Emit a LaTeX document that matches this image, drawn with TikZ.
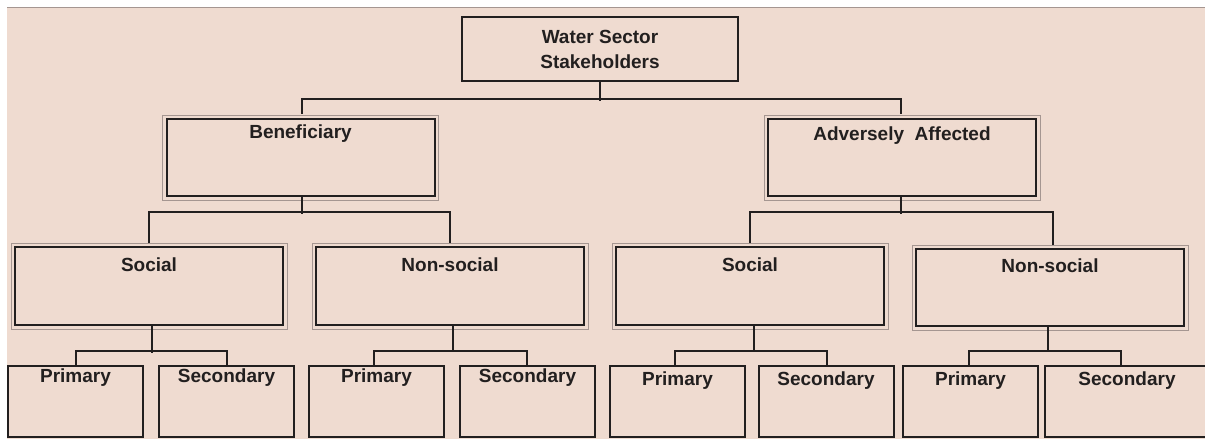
\documentclass[tikz,border=0pt]{standalone}
\usepackage{fontspec}
\setmainfont{Liberation Sans}
\definecolor{paper}{RGB}{239,219,208}
\definecolor{ink}{RGB}{34,31,31}
\definecolor{rim}{RGB}{165,150,145}
\begin{document}
\begin{tikzpicture}[x=1pt,y=-1pt,
  box/.style={draw=ink, line width=2pt, rectangle, inner sep=0pt},
  topbox/.style={box, minimum width=276pt, minimum height=64pt},
  bigbox/.style={box, minimum width=268pt, minimum height=77pt},
  leafbox/.style={box, minimum width=135pt, minimum height=71pt},
  lbl/.style={text=ink, font=\fontsize{19}{25}\selectfont\bfseries, inner sep=0pt, align=center},
  link/.style={draw=ink, line width=2pt},
  rimline/.style={draw=rim, line width=1pt}]
% page and background
\useasboundingbox (0,0) rectangle (1205,439);
\fill[white] (0,0) rectangle (1205,439);
\fill[paper] (7,7) rectangle (1205,439);
\draw[rim, line width=1pt] (7,7) -- (1205,7);

% root
\node[topbox] (root) at (600,49) {};
\node[lbl] (rootT) at (600,49.5) {Water Sector\\Stakeholders};

% first level
\node[bigbox] (ben) at (300.5,157.5) {};
\node[bigbox] (adv) at (902,157.5) {};
\node[lbl] (benT) at ([yshift=-16pt]ben.north) {Beneficiary};
\node[lbl] (advT) at ([yshift=-18pt]adv.north) {Adversely\ \ Affected};

% second level
\node[bigbox, minimum height=78pt] (socL) at (149,286) {};
\node[bigbox, minimum height=78pt] (nsL) at (450,286) {};
\node[bigbox, minimum height=78pt] (socR) at (750,286) {};
\node[bigbox, minimum height=77pt] (nsR) at (1050,287.5) {};
\node[lbl] (socLT) at ([yshift=-19pt]socL.north) {Social};
\node[lbl] (nsLT) at ([yshift=-19pt]nsL.north) {Non-social};
\node[lbl] (socRT) at ([yshift=-19pt]socR.north) {Social};
\node[lbl] (nsRT) at ([yshift=-18pt]nsR.north) {Non-social};

% thin outer rims round the middle boxes
\foreach \b in {ben,adv,socL,nsL,socR,nsR}{
  \draw[rimline] ([xshift=-3pt,yshift=-3pt]\b.south west) rectangle ([xshift=3pt,yshift=3pt]\b.north east);
}

% leaves
\node[leafbox] (pL1) at (75.5,401.5) {};
\node[leafbox] (sL1) at (226.5,401.5) {};
\node[leafbox] (pL2) at (376.5,401.5) {};
\node[leafbox] (sL2) at (527.5,401.5) {};
\node[leafbox] (pR1) at (677.5,401.5) {};
\node[leafbox] (sR1) at (826,401.5) {};
\node[leafbox] (pR2) at (970.5,401.5) {};
\node[leafbox, minimum width=162pt] (sR2) at (1126,401.5) {};
\foreach \l/\t in {pL1/Primary,sL1/Secondary,pL2/Primary,sL2/Secondary}{
  \node[lbl] (\l T) at ([yshift=-13pt]\l.north) {\t};
}
\foreach \l/\t in {pR1/Primary,sR1/Secondary,pR2/Primary}{
  \node[lbl] (\l T) at ([yshift=-16pt]\l.north) {\t};
}
\node[lbl] (sR2T) at ([xshift=1pt,yshift=-16pt]sR2.north) {Secondary};

% connectors
\draw[link] (root.south) -- ++(0,19);
\draw[link] (ben.north) ++(1.5,-4) -- ++(0,-15) -| ([xshift=-1pt,yshift=4pt]adv.north);
\draw[link] (ben.south) ++(1.5,0) -- ++(0,17);
\draw[link] (adv.south) ++(-1,0) -- ++(0,17);
\draw[link] (socL.north) ++(0,-3) -- ++(0,-31) -| ([yshift=3pt]nsL.north);
\draw[link] (socR.north) ++(0,-3) -- ++(0,-31) -| ([xshift=3pt,yshift=3pt]nsR.north);
\draw[link] (socL.south) ++(3,0) -- ++(0,27);
\draw[link] (nsL.south) ++(3,0) -- ++(0,26);
\draw[link] (socR.south) ++(4,0) -- ++(0,26);
\draw[link] (nsR.south) ++(-2,0) -- ++(0,25);
\draw[link] (pL1.north) -- ++(0,-14) -| (sL1.north);
\draw[link] (pL2.north) ++(-3,0) -- ++(0,-14) -| ([xshift=-1pt]sL2.north);
\draw[link] (pR1.north) ++(-3,0) -- ++(0,-14) -| ([xshift=1pt]sR1.north);
\draw[link] (pR2.north) ++(-1.5,0) -- ++(0,-14) -| ([xshift=-5pt]sR2.north);
\end{tikzpicture}
\end{document}
